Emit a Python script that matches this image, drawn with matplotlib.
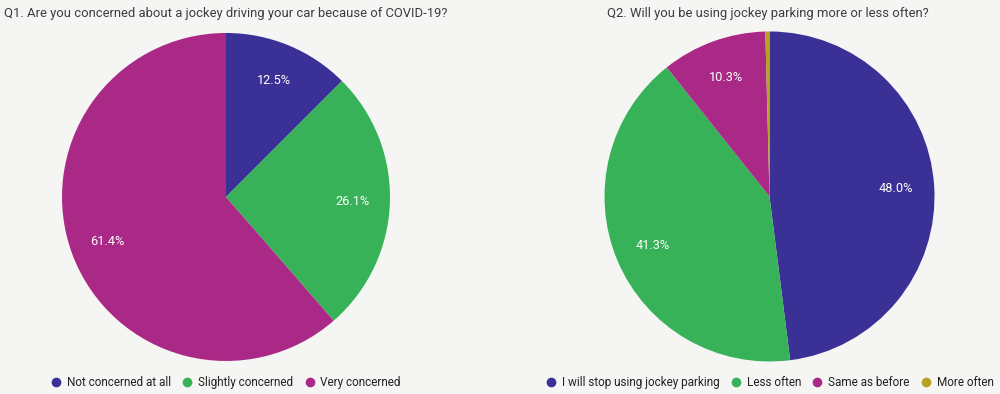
import numpy as np
import matplotlib.pyplot as plt
from matplotlib.lines import Line2D

plt.rcParams['font.family'] = ['Roboto', 'DejaVu Sans']

q1_title = "Q1. Are you concerned about a jockey driving your car because of COVID-19?"
q1_labels = ["Not concerned at all", "Slightly concerned", "Very concerned"]
q1_values = [12.5, 26.1, 61.4]

q2_title = "Q2. Will you be using jockey parking more or less often?"
q2_labels = ["I will stop using jockey parking", "Less often", "Same as before", "More often"]
q2_values = [48.0, 41.3, 10.3, 0.4]

colors = ['#3a3096', '#38b259', '#ab2986', '#b8a021']
bg = '#f5f6f4'

fig = plt.figure(figsize=(10, 3.94), dpi=100)
fig.patch.set_facecolor(bg)


def draw_pie(rect, values):
    ax = fig.add_axes(rect)
    ax.set_facecolor(bg)
    wedges, _ = ax.pie(values, colors=colors[:len(values)], startangle=90,
                       counterclock=False, radius=1.0,
                       wedgeprops=dict(linewidth=0))
    for w, v in zip(wedges, values):
        if v < 5:
            continue
        mid = np.deg2rad((w.theta1 + w.theta2) / 2)
        ax.text(0.77 * np.cos(mid), 0.77 * np.sin(mid), f"{v:.1f}%", color='white',
                fontsize=9.2, ha='center', va='center')
    ax.set_xlim(-1, 1)
    ax.set_ylim(-1, 1)
    ax.set_aspect('equal')
    ax.axis('off')
    return ax


draw_pie([0.062, 0.0838, 0.328, 0.8325], q1_values)
draw_pie([0.6045, 0.0825, 0.330, 0.8376], q2_values)

fig.text(0.004, 0.967, q1_title, fontsize=9.4, color='#3c3c3c', va='center', ha='left')
fig.text(0.607, 0.967, q2_title, fontsize=9.4, color='#3c3c3c', va='center', ha='left')


def legend(labels, x):
    handles = [Line2D([], [], marker='o', linestyle='none', markersize=7,
                      markerfacecolor=c, markeredgewidth=0) for c in colors[:len(labels)]]
    fig.legend(handles, labels, loc='center', bbox_to_anchor=(x, 0.03), ncol=len(labels),
               frameon=False, fontsize=8.5, handlelength=0.8, handletextpad=0.5,
               columnspacing=1.0, labelcolor='#222222', borderaxespad=0)


legend(q1_labels, 0.226)
legend(q2_labels, 0.770)

plt.savefig('out.png', dpi=100, facecolor=fig.get_facecolor())
plt.close()
